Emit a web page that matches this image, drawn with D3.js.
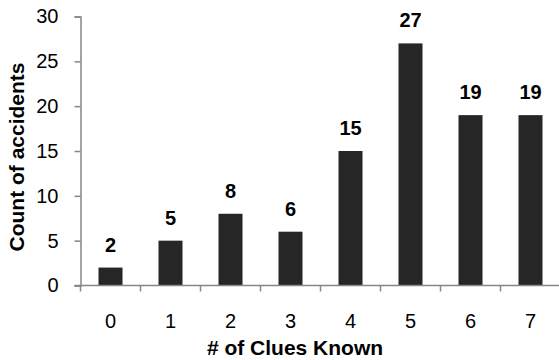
<!DOCTYPE html>
<html>
<head>
<meta charset="utf-8">
<script src="https://cdn.jsdelivr.net/npm/d3@7"></script>
<style>
  html, body { margin: 0; padding: 0; background: #fff; }
  svg { display: block; font-family: "Liberation Sans", Arial, sans-serif; }
</style>
</head>
<body>
<svg id="chart" width="559" height="360"></svg>
<script>
// Accident counts by number of clues known
const categories = ["0", "1", "2", "3", "4", "5", "6", "7"];
const counts = [2, 5, 8, 6, 15, 27, 19, 19];
const yTicks = [0, 5, 10, 15, 20, 25, 30];

const svg = d3.select("#chart");
const axisColor = "#868686";
const fontFamily = "Liberation Sans, Arial, sans-serif";

const x = d3.scaleBand()
  .domain(categories)
  .range([80.5, 560.5])
  .paddingInner(0.6)
  .paddingOuter(0.3);

const y = d3.scaleLinear()
  .domain([0, 30])
  .range([285.5, 16.5]);

// Bars
svg.append("g")
  .selectAll("rect")
  .data(counts)
  .join("rect")
  .attr("x", (d, i) => x(categories[i]))
  .attr("y", d => y(d))
  .attr("width", x.bandwidth())
  .attr("height", d => y(0) - y(d))
  .attr("fill", "#262626");

// Value labels
svg.append("g")
  .selectAll("text")
  .data(counts)
  .join("text")
  .attr("x", (d, i) => x(categories[i]) + x.bandwidth() / 2)
  .attr("y", d => y(d) - 16)
  .attr("text-anchor", "middle")
  .attr("font-size", 20)
  .attr("font-weight", "bold")
  .attr("fill", "#000")
  .text(d => d);

// Y axis
const yAxis = svg.append("g")
  .attr("transform", "translate(80.5,0)")
  .call(d3.axisLeft(y).tickValues(yTicks).tickSize(6).tickPadding(16));
yAxis.attr("font-size", 20).attr("font-family", fontFamily);
yAxis.select(".domain").attr("stroke", axisColor).attr("stroke-width", 1.5);
yAxis.selectAll(".tick line").attr("stroke", axisColor).attr("stroke-width", 1.5);
yAxis.selectAll(".tick text").attr("fill", "#000");

// X axis: baseline with ticks at category boundaries
const xg = svg.append("g");
xg.append("line")
  .attr("x1", 74.5).attr("x2", 560)
  .attr("y1", y(0)).attr("y2", y(0))
  .attr("stroke", axisColor).attr("stroke-width", 1.5);
const step = x.step();
xg.selectAll("line.bound")
  .data(d3.range(categories.length + 1))
  .join("line")
  .attr("class", "bound")
  .attr("x1", i => 80.5 + i * step)
  .attr("x2", i => 80.5 + i * step)
  .attr("y1", y(0))
  .attr("y2", y(0) + 6)
  .attr("stroke", axisColor).attr("stroke-width", 1.5);
xg.selectAll("text")
  .data(categories)
  .join("text")
  .attr("x", d => x(d) + x.bandwidth() / 2)
  .attr("y", 328)
  .attr("text-anchor", "middle")
  .attr("font-size", 20)
  .attr("fill", "#000")
  .text(d => d);

// Axis titles
svg.append("text")
  .attr("x", 295)
  .attr("y", 355)
  .attr("text-anchor", "middle")
  .attr("font-size", 21)
  .attr("font-weight", "bold")
  .text("# of Clues Known");

svg.append("text")
  .attr("transform", "translate(24,157) rotate(-90)")
  .attr("text-anchor", "middle")
  .attr("font-size", 21)
  .attr("font-weight", "bold")
  .text("Count of accidents");
</script>
</body>
</html>
